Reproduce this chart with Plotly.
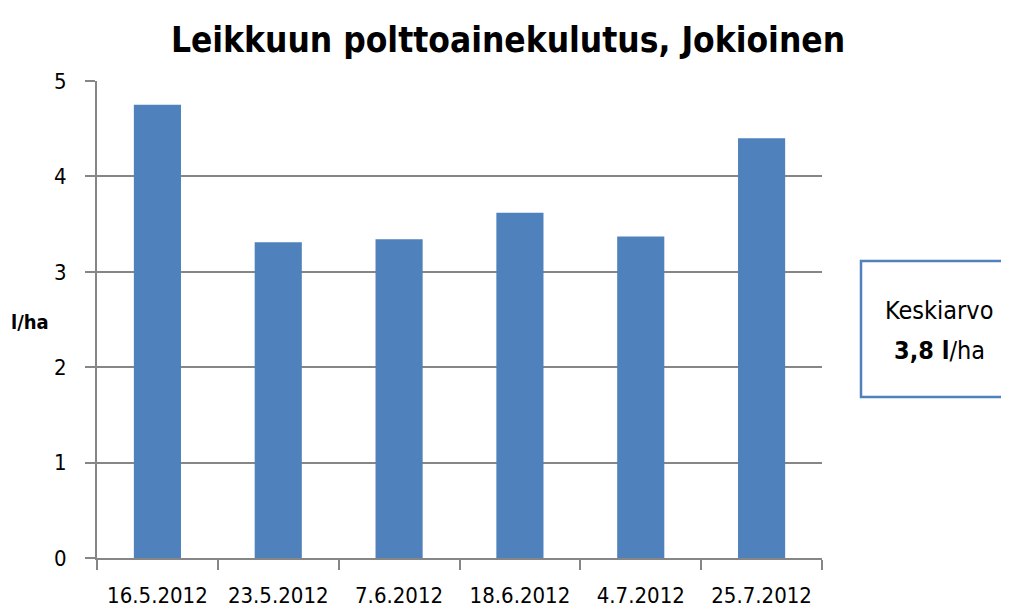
import plotly.graph_objects as go

categories = ["16.5.2012", "23.5.2012", "7.6.2012", "18.6.2012", "4.7.2012", "25.7.2012"]
values = [4.75, 3.31, 3.34, 3.62, 3.37, 4.40]
y_ticks = [0, 1, 2, 3, 4, 5]
title_text = "Leikkuun polttoainekulutus, Jokioinen"
y_label = "l/ha"
box_line1 = "Keskiarvo"
box_line2 = "<b>3,8 l</b>/ha"

FONT = "DejaVu Sans Condensed"
GRAY = "#868686"
BLUE = "#4F81BD"

# page body has an 8px margin; lay the figure out in screen pixels minus that offset
OFF = 8
W, H = 1009 - OFF, 608 - OFF
L, R, T, B = 97, 822, 81, 558   # plot area in screen pixels
pw, ph = R - L, B - T

def px(x):
    return (x - L) / pw

def py(y):
    return (B - y) / ph

fig = go.Figure(go.Bar(x=categories, y=values, marker=dict(color=BLUE, line=dict(width=0))))

fig.update_layout(
    width=W, height=H,
    margin=dict(l=L - OFF, r=W - (R - OFF), t=T - OFF, b=H - (B - OFF), pad=0, autoexpand=False),
    plot_bgcolor="white", paper_bgcolor="white",
    bargap=0.61,
    showlegend=False,
    font=dict(family=FONT, color="black"),
    title=dict(text="<b>" + title_text + "</b>", x=(508 - OFF) / W, xanchor="center",
               y=1 - (40 - OFF) / H, yanchor="middle", yref="container",
               font=dict(family=FONT, size=35, color="black")),
)

fig.update_xaxes(
    type="category", showline=True, linecolor=GRAY, linewidth=2, automargin=False,
    ticks="outside", tickson="boundaries", ticklen=10, tickwidth=2, tickcolor=GRAY,
    tickfont=dict(family=FONT, size=22, color="black"), ticklabelstandoff=17,
    showgrid=False,
)
fig.update_yaxes(
    range=[0, 5], tickvals=y_ticks, showline=True, linecolor=GRAY, linewidth=2,
    showgrid=True, gridcolor=GRAY, gridwidth=2, zeroline=False, automargin=False,
    ticks="outside", ticklen=10, tickwidth=2, tickcolor=GRAY,
    tickfont=dict(family=FONT, size=22, color="black"), ticklabelstandoff=14,
)

fig.add_annotation(text="<b>" + y_label + "</b>", x=px(30), y=py(322), xref="paper", yref="paper",
                   showarrow=False, font=dict(family=FONT, size=20, color="black"),
                   xanchor="center", yanchor="middle")

fig.add_shape(type="rect", xref="paper", yref="paper",
              x0=px(861), x1=px(1006), y0=py(397), y1=py(261),
              line=dict(color=BLUE, width=2.5), fillcolor="white")
fig.add_annotation(text=box_line1, x=px(939), y=py(310), xref="paper", yref="paper",
                   showarrow=False, font=dict(family=FONT, size=25, color="black"),
                   xanchor="center", yanchor="middle")
fig.add_annotation(text=box_line2, x=px(939), y=py(350), xref="paper", yref="paper",
                   showarrow=False, font=dict(family=FONT, size=25, color="black"),
                   xanchor="center", yanchor="middle")

fig.write_html("out.html")
